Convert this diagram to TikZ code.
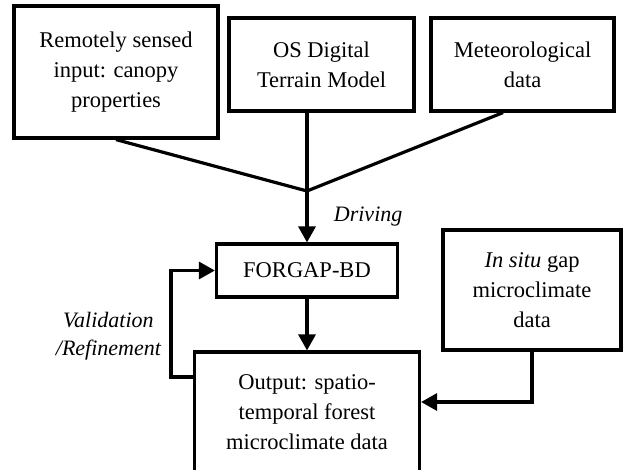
\documentclass[tikz,border=0pt]{standalone}
\usepackage{fontspec}
\setmainfont{Liberation Serif}
\usetikzlibrary{arrows.meta}

\tikzset{
    box/.style={draw, rectangle, line width=3.2pt, inner sep=0pt, align=center, font=\fontsize{22.5}{30}\selectfont},
    flow/.style={line width=3.2pt},
    lbl/.style={font=\fontsize{22}{28}\selectfont\itshape, align=center},
}

\begin{document}
\begin{tikzpicture}[x=1pt, y=-1pt, >={Triangle[width=17pt,length=16pt]}]
    \clip (0,0) rectangle (623,469);

    % inputs
    \node[box, minimum width=204pt, minimum height=132pt] (rs) at (116,72) {Remotely sensed\\input: canopy\\properties};
    \node[box, node distance=205.5pt, right of=rs, yshift=7.5pt, minimum width=185pt, minimum height=93pt] (dtm) {OS Digital\\Terrain Model};
    \node[box, node distance=201pt, right of=dtm, minimum width=183pt, minimum height=93pt] (met) {Meteorological\\data};
    \coordinate (j) at (307,191);

    % model and output
    \node[box, node distance=79.5pt, below of=j, minimum width=181pt, minimum height=53pt] (forgap) {FORGAP-BD};
    \node[box, node distance=141.5pt, below of=forgap, minimum width=225pt, minimum height=120pt] (output) {Output: spatio-\\temporal forest\\microclimate data};
    \node[box, node distance=225pt, right of=forgap, yshift=-19.5pt, minimum width=178pt, minimum height=120pt] (insitu) {\textit{In situ} gap\\microclimate\\data};
    \coordinate (fb) at ([xshift=-22pt, yshift=35pt]output.west);

    \draw[flow] (rs.south) -- (j);
    \draw[flow] (dtm.south -| j) -- (j);
    \draw[flow] ([xshift=-19.5pt]met.south) -- (j);
    \draw[flow, ->] (j) -- node[lbl, right, xshift=22pt] {Driving} (forgap);
    \draw[flow, ->] (forgap) -- (output);
    \draw[flow, ->] (insitu) |- ([yshift=10pt]output.east);
    \draw[flow, ->] (fb -| output.west) -- (fb) |- node[lbl, left, pos=0.25, xshift=-5pt, yshift=-12pt] {Validation\\/Refinement} (forgap.west);
\end{tikzpicture}
\end{document}
